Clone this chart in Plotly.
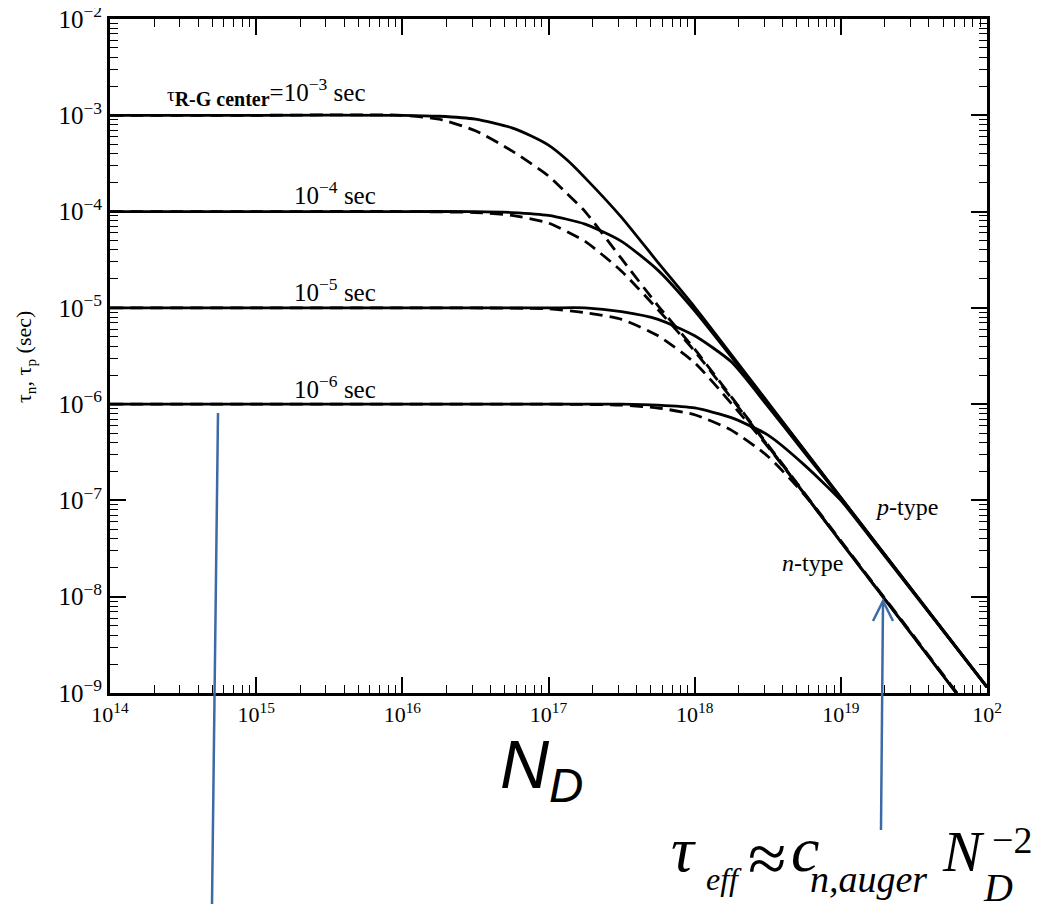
import plotly.graph_objects as go

# ---------------- data (N_D in cm^-3, lifetime in s) -------------
# p-type (solid) curves, one per R-G centre lifetime
N_p1 = [1e14, 1e15, 1e16, 1.78e16, 3.16e16, 5.62e16, 7.5e16, 1e17, 1.33e17, 1.78e17, 3.16e17, 5.62e17, 1e18, 3.16e18, 1e19, 1e20]
tau_p1 = [1e-3, 1e-3, 1e-3, 9.77e-4, 9.12e-4, 7.41e-4, 6.17e-4, 4.90e-4, 3.47e-4, 2.24e-4, 8.71e-5, 2.95e-5, 1.02e-5, 1.05e-6, 1.07e-7, 1.15e-9]

N_p2 = [1e14, 1e15, 1e16, 3.16e16, 5.62e16, 1e17, 1.78e17, 3.16e17, 5.62e17, 1e18, 3.16e18, 1e19, 1e20]
tau_p2 = [1e-4, 1e-4, 1e-4, 1.0e-4, 9.77e-5, 9.12e-5, 7.41e-5, 4.90e-5, 2.45e-5, 9.33e-6, 1.02e-6, 1.07e-7, 1.15e-9]

N_p3 = [1e14, 1e15, 1e16, 1e17, 1.78e17, 3.16e17, 5.62e17, 1e18, 1.78e18, 3.16e18, 5.62e18, 1e19, 1e20]
tau_p3 = [1e-5, 1e-5, 1e-5, 1e-5, 1.0e-5, 9.12e-6, 7.59e-6, 5.13e-6, 2.75e-6, 9.55e-7, 3.16e-7, 1.05e-7, 1.15e-9]

N_p4 = [1e14, 1e15, 1e16, 1e17, 3.16e17, 5.62e17, 1e18, 1.78e18, 3.16e18, 5.62e18, 1e19, 1.78e19, 1e20]
tau_p4 = [1e-6, 1e-6, 1e-6, 1e-6, 1.0e-6, 9.77e-7, 9.12e-7, 7.24e-7, 4.79e-7, 2.34e-7, 1.0e-7, 3.31e-8, 1.15e-9]

# n-type (dashed) curves
N_n1 = [1e14, 1e15, 1e16, 1.78e16, 3.16e16, 5.62e16, 1e17, 1.33e17, 1.78e17, 3.16e17, 5.62e17, 1e18, 3.16e18, 1e19, 3.16e19, 7.08e19]
tau_n1 = [1e-3, 1e-3, 1e-3, 9.12e-4, 6.92e-4, 4.27e-4, 2.34e-4, 1.55e-4, 1.0e-4, 3.24e-5, 1.05e-5, 3.72e-6, 3.80e-7, 3.80e-8, 3.89e-9, 7.76e-10]

N_n2 = [1e14, 1e15, 1e16, 3.16e16, 5.62e16, 1e17, 1.78e17, 3.16e17, 5.62e17, 1e18, 3.16e18, 1e19, 3.16e19, 7.08e19]
tau_n2 = [1e-4, 1e-4, 1e-4, 9.77e-5, 9.12e-5, 7.59e-5, 4.90e-5, 2.40e-5, 9.55e-6, 3.55e-6, 3.72e-7, 3.72e-8, 3.80e-9, 7.59e-10]

N_n3 = [1e14, 1e15, 1e16, 1e17, 1.78e17, 3.16e17, 5.62e17, 1e18, 1.78e18, 3.16e18, 1e19, 3.16e19, 7.08e19]
tau_n3 = [1e-5, 1e-5, 1e-5, 9.77e-6, 8.91e-6, 7.59e-6, 5.13e-6, 2.69e-6, 1.02e-6, 3.63e-7, 3.72e-8, 3.80e-9, 7.59e-10]

N_n4 = [1e14, 1e15, 1e16, 1e17, 3.16e17, 5.62e17, 1e18, 1.78e18, 3.16e18, 5.62e18, 1e19, 3.16e19, 7.08e19]
tau_n4 = [1e-6, 1e-6, 1e-6, 1e-6, 9.77e-7, 9.12e-7, 7.76e-7, 5.37e-7, 2.88e-7, 1.15e-7, 3.72e-8, 3.80e-9, 7.59e-10]

# tick labels
x_tickvals = [1e14, 1e15, 1e16, 1e17, 1e18, 1e19, 1e20]
x_ticktext = ["10<sup>14</sup>", "10<sup>15</sup>", "10<sup>16</sup>", "10<sup>17</sup>",
              "10<sup>18</sup>", "10<sup>19</sup>", "10<sup>2</sup>"]
y_tickvals = [1e-9, 1e-8, 1e-7, 1e-6, 1e-5, 1e-4, 1e-3, 1e-2]
y_ticktext = ["10<sup>−9</sup>", "10<sup>−8</sup>", "10<sup>−7</sup>", "10<sup>−6</sup>",
              "10<sup>−5</sup>", "10<sup>−4</sup>", "10<sup>−3</sup>", "10<sup>−2</sup>"]

# ---------------- figure -------------
OFF = 8                      # page body margin of the html page
W, H = 1041 - OFF, 904 - OFF
L, R, T, B = 110, 987, 19, 693   # plot frame in page pixels


def px(x):
    return (x - L) / (R - L)


def py(y):
    return (B - y) / (B - T)


SERIF = "Liberation Serif, Times New Roman, serif"
fig = go.Figure()

solid = [(N_p1, tau_p1), (N_p2, tau_p2), (N_p3, tau_p3), (N_p4, tau_p4)]
dashed = [(N_n1, tau_n1), (N_n2, tau_n2), (N_n3, tau_n3), (N_n4, tau_n4)]
for N, tau in solid:
    fig.add_trace(go.Scatter(x=N, y=tau, mode="lines", showlegend=False, hoverinfo="skip",
                             line=dict(color="black", width=2.8, shape="spline", smoothing=0.6)))
for N, tau in dashed:
    fig.add_trace(go.Scatter(x=N, y=tau, mode="lines", showlegend=False, hoverinfo="skip",
                             line=dict(color="black", width=2.8, dash="13px,7px",
                                       shape="spline", smoothing=0.6)))

minor_x = [float(k) * 10.0 ** e for e in range(14, 20) for k in range(2, 10)]
minor_y = [float(k) * 10.0 ** e for e in range(-9, -2) for k in range(2, 10)]

axis_common = dict(type="log", showline=True, linewidth=3, linecolor="black", mirror="allticks",
                   ticks="inside", ticklen=16, tickwidth=1.6, tickcolor="black",
                   showgrid=False, zeroline=False, ticklabeloverflow="allow", automargin=False)

fig.update_xaxes(range=[14, 20], tickvals=x_tickvals, ticktext=x_ticktext,
                 tickfont=dict(family=SERIF, size=22, color="black"),
                 minor=dict(tickvals=minor_x, ticks="inside", ticklen=8, tickwidth=1.3,
                            tickcolor="black", showgrid=False),
                 **axis_common)
fig.update_yaxes(range=[-9, -2], tickvals=y_tickvals, ticktext=y_ticktext,
                 tickfont=dict(family=SERIF, size=25, color="black"),
                 minor=dict(tickvals=minor_y, ticks="inside", ticklen=8, tickwidth=1.3,
                            tickcolor="black", showgrid=False),
                 **axis_common)

ann = []


def text(x, y, s, size=25, xanchor="left", family=SERIF, angle=0, yanchor="middle"):
    ann.append(dict(x=px(x), y=py(y), xref="paper", yref="paper", text=s, showarrow=False,
                    xanchor=xanchor, yanchor=yanchor, textangle=angle,
                    font=dict(family=family, size=size, color="black")))


text(165, 92, "<span style='font-size:19px'>τ</span><sub><b><span style='font-size:20px'>R-G center</span></b></sub>"
              "=10<sup>−3</sup> sec")
text(292, 193, "10<sup>−4</sup> sec")
text(292, 290, "10<sup>−5</sup> sec")
text(292, 387, "10<sup>−6</sup> sec")
text(873, 507, "<i>p</i>-type", size=24)
text(780, 563, "<i>n</i>-type", size=24)
text(25, 357, "τ<sub>n</sub>, τ<sub>p</sub> (sec)", size=22, xanchor="center", angle=-90)
text(498, 769, "<i>N<sub>D</sub></i>", size=68, family="Liberation Sans, Arial, sans-serif")

# formula  tau_eff ~ c_{n,auger} N_D^-2, placed piece by piece
text(669, 850, "<i>τ</i>", size=64)
text(704, 879, "<i>eff</i>", size=32)
text(746, 858, "≈", size=70)
text(789, 850, "<i>c</i>", size=64)
text(808, 879, "<i>n,auger</i>", size=38)
text(940, 851, "<i>N</i>", size=58)
text(981, 887, "<i>D</i>", size=40)
text(990, 840, "−2", size=38)
fig.update_layout(annotations=ann)

BLUE = "#3d6aa6"
shapes = [
    dict(type="line", xref="paper", yref="paper", x0=px(212), y0=py(904), x1=px(218), y1=py(413),
         line=dict(color=BLUE, width=2.5)),
    dict(type="line", xref="paper", yref="paper", x0=px(881), y0=py(830), x1=px(883), y1=py(602),
         line=dict(color=BLUE, width=2.5)),
    dict(type="path", xref="paper", yref="paper",
         path=f"M{px(873)},{py(621)} L{px(883)},{py(601)} L{px(893)},{py(621)}",
         line=dict(color=BLUE, width=2.5)),
]
fig.update_layout(shapes=shapes)

fig.update_layout(width=W, height=H,
                  margin=dict(l=L - OFF, r=(W + OFF) - R, t=T - OFF, b=(H + OFF) - B),
                  paper_bgcolor="white", plot_bgcolor="white")

fig.write_html("out.html")
